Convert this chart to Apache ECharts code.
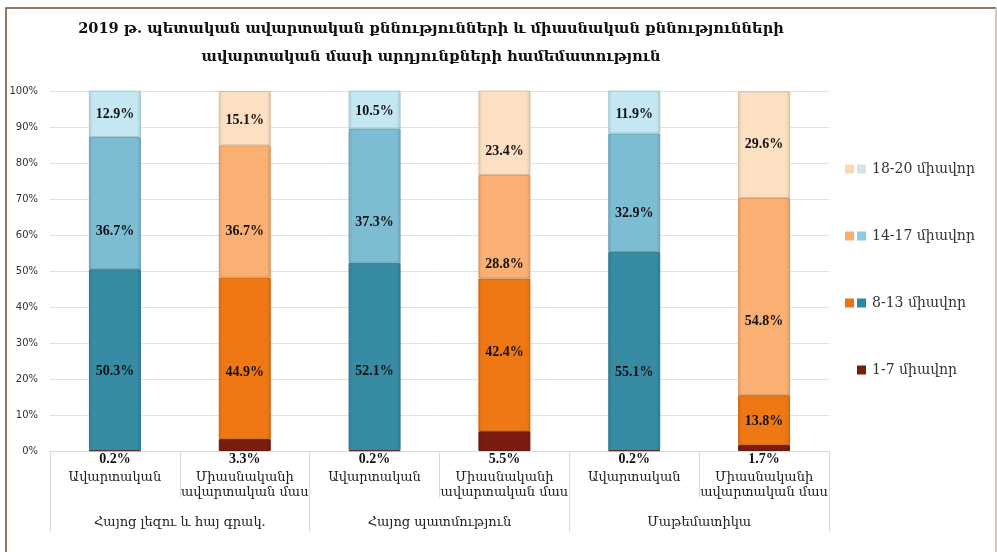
<!DOCTYPE html>
<html><head><meta charset="utf-8">
<script src="https://cdn.jsdelivr.net/npm/echarts@6/dist/echarts.min.js"></script>
<style>html,body{margin:0;padding:0;background:#fff}#c{width:997px;height:552px}</style>
</head><body><div id="c"></div>
<script>
// ---------- data ----------
const titleLines = ['2019 թ. պետական ավարտական քննությունների և միասնական քննությունների', 'ավարտական մասի արդյունքների համեմատություն'];
const examTypes = ['Ավարտական', 'Միասնականի\nավարտական մաս', 'Ավարտական', 'Միասնականի\nավարտական մաս', 'Ավարտական', 'Միասնականի\nավարտական մաս'];
const subjects = ['Հայոց լեզու և հայ գրակ.', 'Հայոց պատմություն', 'Մաթեմատիկա'];
const seriesNames = ['1-7 միավոր', '8-13 միավոր', '14-17 միավոր', '18-20 միավոր'];
const score1to7 = [0.2, 3.3, 0.2, 5.5, 0.2, 1.7];
const score8to13 = [50.3, 44.9, 52.1, 42.4, 55.1, 13.8];
const score14to17 = [36.7, 36.7, 37.3, 28.8, 32.9, 54.8];
const score18to20 = [12.9, 15.1, 10.5, 23.4, 11.9, 29.6];
const yMin = 0, yMax = 100, yStep = 10;

// ---------- style ----------
const SERIF = '"Liberation Serif", "DejaVu Serif", serif';
const ARM = '"DejaVu Serif", serif';
const blueColors = ['#7a1c10', '#378ca4', '#7dbdd3', '#c4e8f2'];
const orangeColors = ['#7a1c10', '#f07814', '#fbb073', '#fde0c1'];
const legendOrange = ['', '#ec7412', '#fbae6e', '#fdd9b4'];
const legendBlue = ['#7a1c10', '#2f87a0', '#8ccbe0', '#d4e4eb'];
// vertical nudges (px) of the value labels, as placed in the original
const labelDy = [
  [0, 0, 0, 0, 0, 0],
  [12, 14, 15, -2, 21, 1],
  [28, 20, 27, 38, 21, 25],
  [1, 2, 2, 19, 2, 0]
];

function darker(hex, f) {
  const n = parseInt(hex.slice(1), 16);
  const r = Math.round(((n >> 16) & 255) * f), g = Math.round(((n >> 8) & 255) * f), b = Math.round((n & 255) * f);
  return 'rgb(' + r + ',' + g + ',' + b + ')';
}

function bevel(col) {
  return new echarts.graphic.LinearGradient(0, 0, 1, 0, [
    { offset: 0, color: darker(col, 0.9) },
    { offset: 0.08, color: col },
    { offset: 0.92, color: col },
    { offset: 1, color: darker(col, 0.88) }
  ]);
}

const allScores = [score1to7, score8to13, score14to17, score18to20];
const series = allScores.map((vals, s) => ({
  name: seriesNames[s],
  type: 'bar',
  stack: 'total',
  barWidth: 52,
  data: vals.map((v, i) => {
    const col = i % 2 === 0 ? blueColors[s] : orangeColors[s];
    return {
      value: v,
      itemStyle: { color: bevel(col), borderColor: darker(col, 0.85), borderWidth: 1 },
      label: { offset: [0, labelDy[s][i]] }
    };
  }),
  label: {
    show: true,
    position: s === 0 ? 'bottom' : 'inside',
    distance: 1,
    formatter: p => p.value.toFixed(1) + '%',
    fontFamily: SERIF, fontSize: 14, fontWeight: 'bold', color: '#111'
  }
}));

const richLegend = { t: { fontFamily: ARM, fontSize: 14, color: '#333', padding: [0, 0, 0, 6] }, sp: { width: 3, height: 9 }, e: { width: 9, height: 9 } };
seriesNames.forEach((n, s) => {
  richLegend['o' + s] = { width: 9, height: 9, backgroundColor: legendOrange[s] || 'transparent' };
  richLegend['b' + s] = { width: 9, height: 9, backgroundColor: legendBlue[s] };
});

const chart = echarts.init(document.getElementById('c'), null, { renderer: 'canvas' });
chart.setOption({
  animation: false,
  backgroundColor: '#fff',
  title: {
    text: titleLines.join('\n'),
    left: 426, top: 10, textAlign: 'center',
    textStyle: { fontFamily: ARM, fontSize: 14.6, fontWeight: 'bold', color: '#111', lineHeight: 28 }
  },
  legend: {
    orient: 'vertical', left: 835, top: 157, itemGap: 53,
    itemWidth: 0, itemHeight: 0,
    data: seriesNames.slice().reverse(),
    formatter: name => {
      const s = seriesNames.indexOf(name);
      return (s === 0 ? '{e|}' : '{o' + s + '|}') + '{sp|}{b' + s + '|}{t|' + name + '}';
    },
    textStyle: { rich: richLegend }
  },
  grid: { left: 50, right: 168, top: 91, bottom: 101, containLabel: false },
  xAxis: [
    {
      type: 'category', data: examTypes, position: 'bottom',
      axisLine: { show: true, lineStyle: { color: '#d9d9d9' } },
      axisTick: { show: true, length: 46, lineStyle: { color: '#d9d9d9' } },
      axisLabel: { margin: 19, fontFamily: ARM, fontSize: 13, color: '#222', lineHeight: 15, interval: 0 }
    },
    {
      type: 'category', data: subjects, position: 'bottom', offset: 81,
      axisLine: { show: false },
      axisTick: { show: true, inside: true, length: 81, lineStyle: { color: '#d9d9d9' } },
      axisLabel: { margin: -16, fontFamily: ARM, fontSize: 13, color: '#222', interval: 0 }
    }
  ],
  yAxis: {
    type: 'value', min: yMin, max: yMax, interval: yStep,
    axisLine: { show: false }, axisTick: { show: false },
    axisLabel: { formatter: '{value}%', margin: 12, fontFamily: '"DejaVu Sans", sans-serif', fontSize: 10, color: '#333' },
    splitLine: { lineStyle: { color: '#e6e1d7' } }
  },
  graphic: [
    { type: 'polyline', shape: { points: [[6, 552], [6, 8], [996, 8]] }, style: { stroke: '#6e4b2a', lineWidth: 1.5, fill: null } },
    { type: 'line', shape: { x1: 996, y1: 8, x2: 996, y2: 552 }, style: { stroke: '#cfb59c', lineWidth: 1.5 } }
  ],
  series: series
});
</script></body></html>
